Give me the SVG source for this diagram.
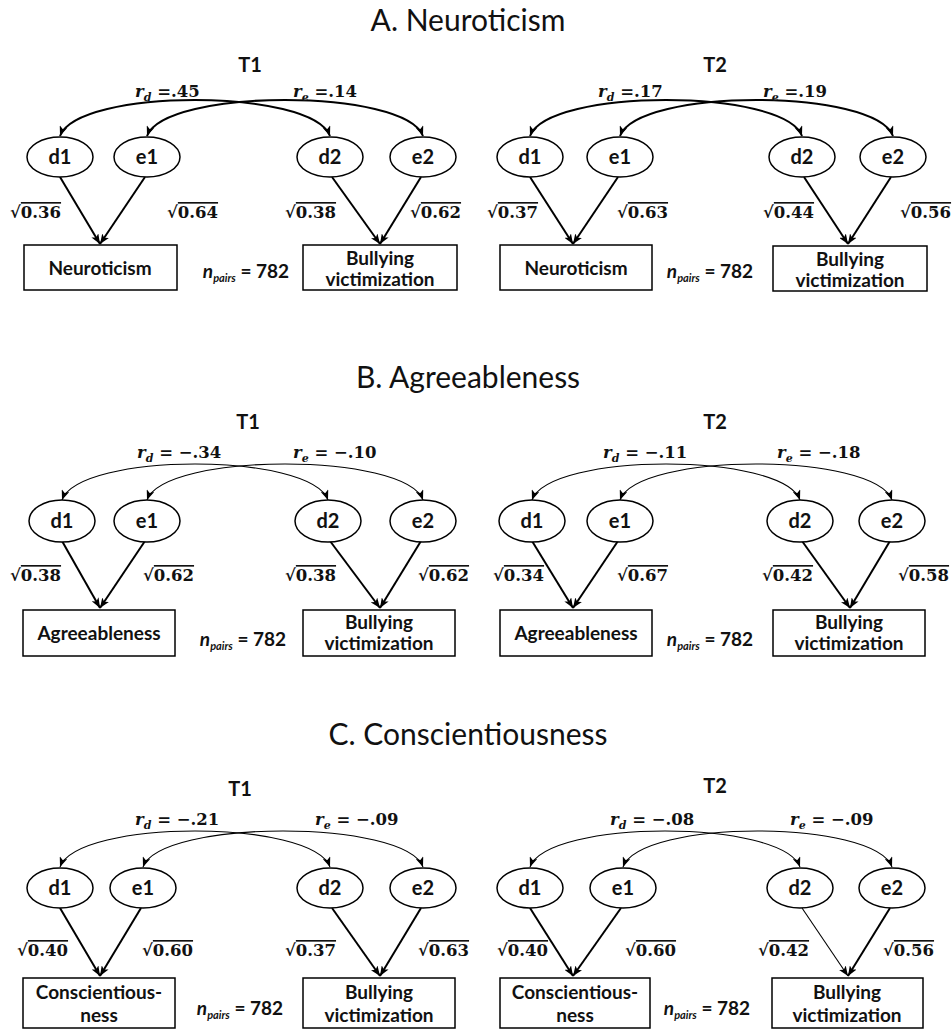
<svg xmlns="http://www.w3.org/2000/svg" width="952" height="1034" viewBox="0 0 952 1034">
<defs>
<marker id="ah" viewBox="0 0 10 8" refX="10" refY="4" markerWidth="10" markerHeight="8" markerUnits="userSpaceOnUse" orient="auto-start-reverse"><path d="M0,0 L10,4 L0,8 L2.5,4 z" fill="#000"/></marker>
<style>
.title{font-family:Lato,"Liberation Sans",sans-serif;font-size:30px;text-anchor:middle;fill:#111}
.tp{font-family:Lato,"Liberation Sans",sans-serif;font-weight:bold;font-size:20px;text-anchor:middle;fill:#111}
.node ellipse,.node rect{fill:#fff;stroke:#000;stroke-width:1.5}
.nl{font-family:Lato,"Liberation Sans",sans-serif;font-weight:bold;font-size:20px;text-anchor:middle;fill:#111}
.bl{font-family:Lato,"Liberation Sans",sans-serif;font-weight:bold;font-size:19px;text-anchor:middle;fill:#111}
.m{font-family:"DejaVu Serif",serif;font-weight:bold;font-size:16.5px;fill:#111}
.i{font-style:italic}
.sub{font-size:11px}
.ov{text-decoration:overline}
.np{font-family:Lato,"Liberation Sans",sans-serif;font-weight:bold;font-size:19px;text-anchor:middle;fill:#111}
.c{fill:none;stroke:#000;marker-end:url(#ah)}
.cc{fill:none;stroke:#000;marker-start:url(#ah);marker-end:url(#ah)}
.w2{stroke-width:2}
.w1{stroke-width:1.1}
</style>
</defs>
<rect width="952" height="1034" fill="#fff"/>

<g id="titles">
<text class="title" x="468" y="31">A. Neuroticism</text>
<text class="title" x="468" y="388">B. Agreeableness</text>
<text class="title" x="468" y="745">C. Conscientiousness</text>
<text class="tp" x="250" y="72">T1</text>
<text class="tp" x="715" y="72">T2</text>
<text class="tp" x="248" y="429">T1</text>
<text class="tp" x="715" y="429">T2</text>
<text class="tp" x="240" y="796">T1</text>
<text class="tp" x="715" y="793">T2</text>
</g>

<g id="connectors">
<!-- A T1 -->
<path class="cc w2" d="M60 136 C78 88 312 88 330 136"/>
<path class="cc w2" d="M147 136 C165 88 405 88 423 136"/>
<path class="c w2" d="M60 177 L100 244"/>
<path class="c w2" d="M145 177 L100 244"/>
<path class="c w2" d="M332 177 L380 244"/>
<path class="c w2" d="M421 177 L380 244"/>
<!-- A T2 -->
<path class="cc w2" d="M530 136 C548 88 784 88 802 136"/>
<path class="cc w2" d="M620 136 C638 88 875 88 893 136"/>
<path class="c w2" d="M530 177 L573 244"/>
<path class="c w2" d="M618 177 L573 244"/>
<path class="c w2" d="M804 177 L848 244"/>
<path class="c w2" d="M891 177 L848 244"/>
<!-- B T1 -->
<path class="cc w1" d="M62 500 C80 452 310 452 328 500"/>
<path class="cc w1" d="M147 500 C165 452 405 452 423 500"/>
<path class="c w2" d="M62 541 L100 608"/>
<path class="c w2" d="M145 541 L100 608"/>
<path class="c w2" d="M330 541 L380 608"/>
<path class="c w2" d="M421 541 L380 608"/>
<!-- B T2 -->
<path class="cc w1" d="M532 500 C550 452 782 452 800 500"/>
<path class="cc w1" d="M620 500 C638 452 874 452 892 500"/>
<path class="c w2" d="M532 541 L573 608"/>
<path class="c w2" d="M618 541 L573 608"/>
<path class="c w2" d="M802 541 L850 608"/>
<path class="c w2" d="M890 541 L850 608"/>
<!-- C T1 -->
<path class="cc w1" d="M60 867 C78 819 312 819 330 867"/>
<path class="cc w1" d="M143 867 C161 819 405 819 423 867"/>
<path class="c w2" d="M60 908 L100 976"/>
<path class="c w2" d="M141 908 L100 976"/>
<path class="c w2" d="M332 908 L380 976"/>
<path class="c w2" d="M421 908 L380 976"/>
<!-- C T2 -->
<path class="cc w1" d="M530 867 C548 819 782 819 800 867"/>
<path class="cc w1" d="M623 867 C641 819 874 819 892 867"/>
<path class="c w2" d="M530 908 L573 976"/>
<path class="c w2" d="M621 908 L573 976"/>
<path class="c w1" d="M802 908 L848 976"/>
<path class="c w2" d="M890 908 L848 976"/>
</g>

<!-- Panel A T1 nodes -->
<g id="A1-d1" class="node"><ellipse cx="60" cy="157" rx="33" ry="20"/><text class="nl" x="60" y="164">d1</text></g>
<g id="A1-e1" class="node"><ellipse cx="147" cy="157" rx="33" ry="20"/><text class="nl" x="147" y="164">e1</text></g>
<g id="A1-d2" class="node"><ellipse cx="330" cy="157" rx="33" ry="20"/><text class="nl" x="330" y="164">d2</text></g>
<g id="A1-e2" class="node"><ellipse cx="423" cy="157" rx="33" ry="20"/><text class="nl" x="423" y="164">e2</text></g>
<g id="A1-trait" class="node"><rect x="24" y="245" width="153" height="45"/><text class="bl" x="100" y="275">Neuroticism</text></g>
<g id="A1-bully" class="node"><rect x="303" y="245" width="154" height="45"/><text class="bl" x="380" y="265">Bullying</text><text class="bl" x="380" y="286">victimization</text></g>

<!-- Panel A T2 nodes -->
<g id="A2-d1" class="node"><ellipse cx="530" cy="157" rx="33" ry="20"/><text class="nl" x="530" y="164">d1</text></g>
<g id="A2-e1" class="node"><ellipse cx="620" cy="157" rx="33" ry="20"/><text class="nl" x="620" y="164">e1</text></g>
<g id="A2-d2" class="node"><ellipse cx="802" cy="157" rx="33" ry="20"/><text class="nl" x="802" y="164">d2</text></g>
<g id="A2-e2" class="node"><ellipse cx="893" cy="157" rx="33" ry="20"/><text class="nl" x="893" y="164">e2</text></g>
<g id="A2-trait" class="node"><rect x="500" y="245" width="152" height="45"/><text class="bl" x="576" y="275">Neuroticism</text></g>
<g id="A2-bully" class="node"><rect x="773" y="246" width="154" height="45"/><text class="bl" x="850" y="266">Bullying</text><text class="bl" x="850" y="287">victimization</text></g>

<!-- Panel B T1 nodes -->
<g id="B1-d1" class="node"><ellipse cx="62" cy="521" rx="33" ry="21"/><text class="nl" x="62" y="528">d1</text></g>
<g id="B1-e1" class="node"><ellipse cx="147" cy="521" rx="33" ry="21"/><text class="nl" x="147" y="528">e1</text></g>
<g id="B1-d2" class="node"><ellipse cx="328" cy="521" rx="33" ry="21"/><text class="nl" x="328" y="528">d2</text></g>
<g id="B1-e2" class="node"><ellipse cx="423" cy="521" rx="33" ry="21"/><text class="nl" x="423" y="528">e2</text></g>
<g id="B1-trait" class="node"><rect x="23" y="610" width="152" height="46"/><text class="bl" x="99" y="640">Agreeableness</text></g>
<g id="B1-bully" class="node"><rect x="303" y="610" width="152" height="46"/><text class="bl" x="379" y="629">Bullying</text><text class="bl" x="379" y="650">victimization</text></g>

<!-- Panel B T2 nodes -->
<g id="B2-d1" class="node"><ellipse cx="532" cy="521" rx="33" ry="21"/><text class="nl" x="532" y="528">d1</text></g>
<g id="B2-e1" class="node"><ellipse cx="620" cy="521" rx="33" ry="21"/><text class="nl" x="620" y="528">e1</text></g>
<g id="B2-d2" class="node"><ellipse cx="800" cy="521" rx="33" ry="21"/><text class="nl" x="800" y="528">d2</text></g>
<g id="B2-e2" class="node"><ellipse cx="892" cy="521" rx="33" ry="21"/><text class="nl" x="892" y="528">e2</text></g>
<g id="B2-trait" class="node"><rect x="500" y="610" width="152" height="46"/><text class="bl" x="576" y="640">Agreeableness</text></g>
<g id="B2-bully" class="node"><rect x="773" y="610" width="152" height="46"/><text class="bl" x="849" y="629">Bullying</text><text class="bl" x="849" y="650">victimization</text></g>

<!-- Panel C T1 nodes -->
<g id="C1-d1" class="node"><ellipse cx="60" cy="888" rx="33" ry="20"/><text class="nl" x="60" y="895">d1</text></g>
<g id="C1-e1" class="node"><ellipse cx="143" cy="888" rx="33" ry="20"/><text class="nl" x="143" y="895">e1</text></g>
<g id="C1-d2" class="node"><ellipse cx="330" cy="888" rx="33" ry="20"/><text class="nl" x="330" y="895">d2</text></g>
<g id="C1-e2" class="node"><ellipse cx="423" cy="888" rx="33" ry="20"/><text class="nl" x="423" y="895">e2</text></g>
<g id="C1-trait" class="node"><rect x="23" y="978" width="152" height="50"/><text class="bl" x="99" y="999">Conscientious-</text><text class="bl" x="99" y="1022">ness</text></g>
<g id="C1-bully" class="node"><rect x="303" y="978" width="152" height="50"/><text class="bl" x="379" y="999">Bullying</text><text class="bl" x="379" y="1022">victimization</text></g>

<!-- Panel C T2 nodes -->
<g id="C2-d1" class="node"><ellipse cx="530" cy="888" rx="33" ry="20"/><text class="nl" x="530" y="895">d1</text></g>
<g id="C2-e1" class="node"><ellipse cx="623" cy="888" rx="33" ry="20"/><text class="nl" x="623" y="895">e1</text></g>
<g id="C2-d2" class="node"><ellipse cx="800" cy="888" rx="33" ry="20"/><text class="nl" x="800" y="895">d2</text></g>
<g id="C2-e2" class="node"><ellipse cx="892" cy="888" rx="33" ry="20"/><text class="nl" x="892" y="895">e2</text></g>
<g id="C2-trait" class="node"><rect x="500" y="978" width="150" height="50"/><text class="bl" x="575" y="999">Conscientious-</text><text class="bl" x="575" y="1022">ness</text></g>
<g id="C2-bully" class="node"><rect x="772" y="978" width="151" height="50"/><text class="bl" x="847" y="999">Bullying</text><text class="bl" x="847" y="1022">victimization</text></g>

<g id="labels">
<!-- A T1 -->
<text class="m" x="135" y="97"><tspan class="i">r</tspan><tspan class="i sub" dy="4">d</tspan><tspan dy="-4"> =.45</tspan></text>
<text class="m" x="293" y="97"><tspan class="i">r</tspan><tspan class="i sub" dy="4">e</tspan><tspan dy="-4"> =.14</tspan></text>
<text class="m" x="10" y="218">√<tspan class="ov">0.36</tspan></text>
<text class="m" x="167" y="218">√<tspan class="ov">0.64</tspan></text>
<text class="m" x="285" y="218">√<tspan class="ov">0.38</tspan></text>
<text class="m" x="410" y="218">√<tspan class="ov">0.62</tspan></text>
<text class="np" x="246" y="278"><tspan class="i">n</tspan><tspan class="i sub" dy="4">pairs</tspan><tspan dy="-4"> = 782</tspan></text>
<!-- A T2 -->
<text class="m" x="598" y="97"><tspan class="i">r</tspan><tspan class="i sub" dy="4">d</tspan><tspan dy="-4"> =.17</tspan></text>
<text class="m" x="763" y="97"><tspan class="i">r</tspan><tspan class="i sub" dy="4">e</tspan><tspan dy="-4"> =.19</tspan></text>
<text class="m" x="487" y="218">√<tspan class="ov">0.37</tspan></text>
<text class="m" x="617" y="218">√<tspan class="ov">0.63</tspan></text>
<text class="m" x="763" y="218">√<tspan class="ov">0.44</tspan></text>
<text class="m" x="900" y="218">√<tspan class="ov">0.56</tspan></text>
<text class="np" x="710" y="278"><tspan class="i">n</tspan><tspan class="i sub" dy="4">pairs</tspan><tspan dy="-4"> = 782</tspan></text>
<!-- B T1 -->
<text class="m" x="137" y="458"><tspan class="i">r</tspan><tspan class="i sub" dy="4">d</tspan><tspan dy="-4"> = −.34</tspan></text>
<text class="m" x="293" y="458"><tspan class="i">r</tspan><tspan class="i sub" dy="4">e</tspan><tspan dy="-4"> = −.10</tspan></text>
<text class="m" x="10" y="581">√<tspan class="ov">0.38</tspan></text>
<text class="m" x="143" y="581">√<tspan class="ov">0.62</tspan></text>
<text class="m" x="285" y="581">√<tspan class="ov">0.38</tspan></text>
<text class="m" x="418" y="581">√<tspan class="ov">0.62</tspan></text>
<text class="np" x="243" y="646"><tspan class="i">n</tspan><tspan class="i sub" dy="4">pairs</tspan><tspan dy="-4"> = 782</tspan></text>
<!-- B T2 -->
<text class="m" x="603" y="458"><tspan class="i">r</tspan><tspan class="i sub" dy="4">d</tspan><tspan dy="-4"> = −.11</tspan></text>
<text class="m" x="777" y="458"><tspan class="i">r</tspan><tspan class="i sub" dy="4">e</tspan><tspan dy="-4"> = −.18</tspan></text>
<text class="m" x="493" y="581">√<tspan class="ov">0.34</tspan></text>
<text class="m" x="617" y="581">√<tspan class="ov">0.67</tspan></text>
<text class="m" x="762" y="581">√<tspan class="ov">0.42</tspan></text>
<text class="m" x="898" y="581">√<tspan class="ov">0.58</tspan></text>
<text class="np" x="710" y="646"><tspan class="i">n</tspan><tspan class="i sub" dy="4">pairs</tspan><tspan dy="-4"> = 782</tspan></text>
<!-- C T1 -->
<text class="m" x="135" y="825"><tspan class="i">r</tspan><tspan class="i sub" dy="4">d</tspan><tspan dy="-4"> = −.21</tspan></text>
<text class="m" x="315" y="825"><tspan class="i">r</tspan><tspan class="i sub" dy="4">e</tspan><tspan dy="-4"> = −.09</tspan></text>
<text class="m" x="17" y="956">√<tspan class="ov">0.40</tspan></text>
<text class="m" x="142" y="956">√<tspan class="ov">0.60</tspan></text>
<text class="m" x="285" y="956">√<tspan class="ov">0.37</tspan></text>
<text class="m" x="418" y="956">√<tspan class="ov">0.63</tspan></text>
<text class="np" x="240" y="1015"><tspan class="i">n</tspan><tspan class="i sub" dy="4">pairs</tspan><tspan dy="-4"> = 782</tspan></text>
<!-- C T2 -->
<text class="m" x="610" y="825"><tspan class="i">r</tspan><tspan class="i sub" dy="4">d</tspan><tspan dy="-4"> = −.08</tspan></text>
<text class="m" x="790" y="825"><tspan class="i">r</tspan><tspan class="i sub" dy="4">e</tspan><tspan dy="-4"> = −.09</tspan></text>
<text class="m" x="497" y="956">√<tspan class="ov">0.40</tspan></text>
<text class="m" x="625" y="956">√<tspan class="ov">0.60</tspan></text>
<text class="m" x="758" y="956">√<tspan class="ov">0.42</tspan></text>
<text class="m" x="883" y="956">√<tspan class="ov">0.56</tspan></text>
<text class="np" x="707" y="1015"><tspan class="i">n</tspan><tspan class="i sub" dy="4">pairs</tspan><tspan dy="-4"> = 782</tspan></text>
</g>
</svg>
